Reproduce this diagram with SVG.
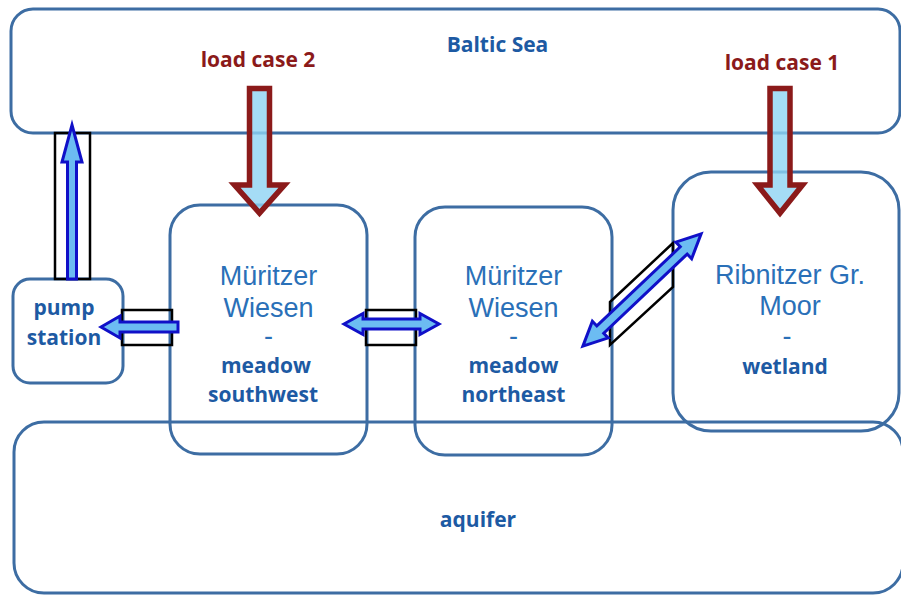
<svg xmlns="http://www.w3.org/2000/svg" width="901" height="595" viewBox="0 0 901 595">
<style>
.box{fill:none;stroke:#3d6da3;stroke-width:3}
.pipe{fill:none;stroke:#000;stroke-width:2.5}
.flow{fill:#6cbcf2;stroke:#1010c8;stroke-width:3;stroke-linejoin:miter}
.load{fill:#8fd3f4;fill-opacity:0.8;stroke:#8b1a1a;stroke-width:5.5;stroke-linejoin:miter}
.lbl{font-family:"Open Sans","Liberation Sans",sans-serif;font-weight:bold;font-size:21px;fill:#1d5aa3;text-anchor:middle}
.red{fill:#8b1a1a}
.nm{font-family:"Liberation Sans",Arial,sans-serif;font-size:27px;fill:#2a70b8;text-anchor:middle}
</style>
<rect width="901" height="595" fill="#fff"/>
<g id="baltic-sea">
<rect class="box" x="11" y="9" width="889" height="124" rx="22"/>
<text class="lbl" x="497.5" y="52">Baltic Sea</text>
</g>
<g id="aquifer">
<rect class="box" x="14" y="422" width="889" height="171" rx="30"/>
<text class="lbl" x="478" y="527">aquifer</text>
</g>
<g id="pump-station">
<rect class="box" x="13" y="279" width="110" height="104" rx="17"/>
<text class="lbl" x="64" y="315">pump</text>
<text class="lbl" x="64" y="345">station</text>
</g>
<g id="meadow-southwest">
<rect class="box" x="170" y="205" width="197" height="249" rx="30"/>
<text class="nm" x="268.5" y="285">Müritzer</text>
<text class="nm" x="268.5" y="317">Wiesen</text>
<text class="nm" x="268.5" y="345">-</text>
<text class="lbl" x="266" y="373">meadow</text>
<text class="lbl" x="263" y="402">southwest</text>
</g>
<g id="meadow-northeast">
<rect class="box" x="415" y="207" width="197" height="248" rx="30"/>
<text class="nm" x="513.5" y="285">Müritzer</text>
<text class="nm" x="513.5" y="317">Wiesen</text>
<text class="nm" x="513.5" y="345">-</text>
<text class="lbl" x="513.5" y="373">meadow</text>
<text class="lbl" x="513.5" y="402">northeast</text>
</g>
<g id="wetland">
<rect class="box" x="673" y="172" width="226" height="259" rx="38"/>
<text class="nm" x="790" y="284">Ribnitzer Gr.</text>
<text class="nm" x="790" y="315">Moor</text>
<text class="nm" x="787" y="345">-</text>
<text class="lbl" x="785" y="374">wetland</text>
</g>
<g id="connectors">
<rect class="pipe" x="55" y="133" width="35" height="146"/>
<path class="flow" d="M72,125 L82,162 L76.5,162 L76.5,279 L67.5,279 L67.5,162 L62,162 Z"/>
<rect class="pipe" x="122" y="310" width="50" height="35"/>
<path class="flow" d="M101,327 L120,316 L120,322 L178,322 L178,332 L120,332 L120,338 Z"/>
<rect class="pipe" x="366" y="310" width="50" height="35"/>
<path class="flow" d="M344,324 L363,313.5 L363,319 L420,319 L420,313.5 L439,324 L420,334.5 L420,329 L363,329 L363,334.5 Z"/>
<path class="pipe" d="M610,302 L673,243 L673,287 L610,345 Z"/>
<path class="flow" transform="translate(642,290) rotate(-43.5)" d="M-81.5,0 L-57.5,-11.5 L-57.5,-5 L57.5,-5 L57.5,-11.5 L81.5,0 L57.5,11.5 L57.5,5 L-57.5,5 L-57.5,11.5 Z"/>
</g>
<g id="load-case-2">
<text class="lbl red" x="258" y="67">load case 2</text>
<path class="load" d="M249.5,88.5 L269.5,88.5 L269.5,185 L284.5,185 L259.5,213 L234.5,185 L249.5,185 Z"/>
</g>
<g id="load-case-1">
<text class="lbl red" x="782" y="70">load case 1</text>
<path class="load" d="M770,88.5 L790,88.5 L790,185 L802.5,185 L780,213 L757.5,185 L770,185 Z"/>
</g>
</svg>
